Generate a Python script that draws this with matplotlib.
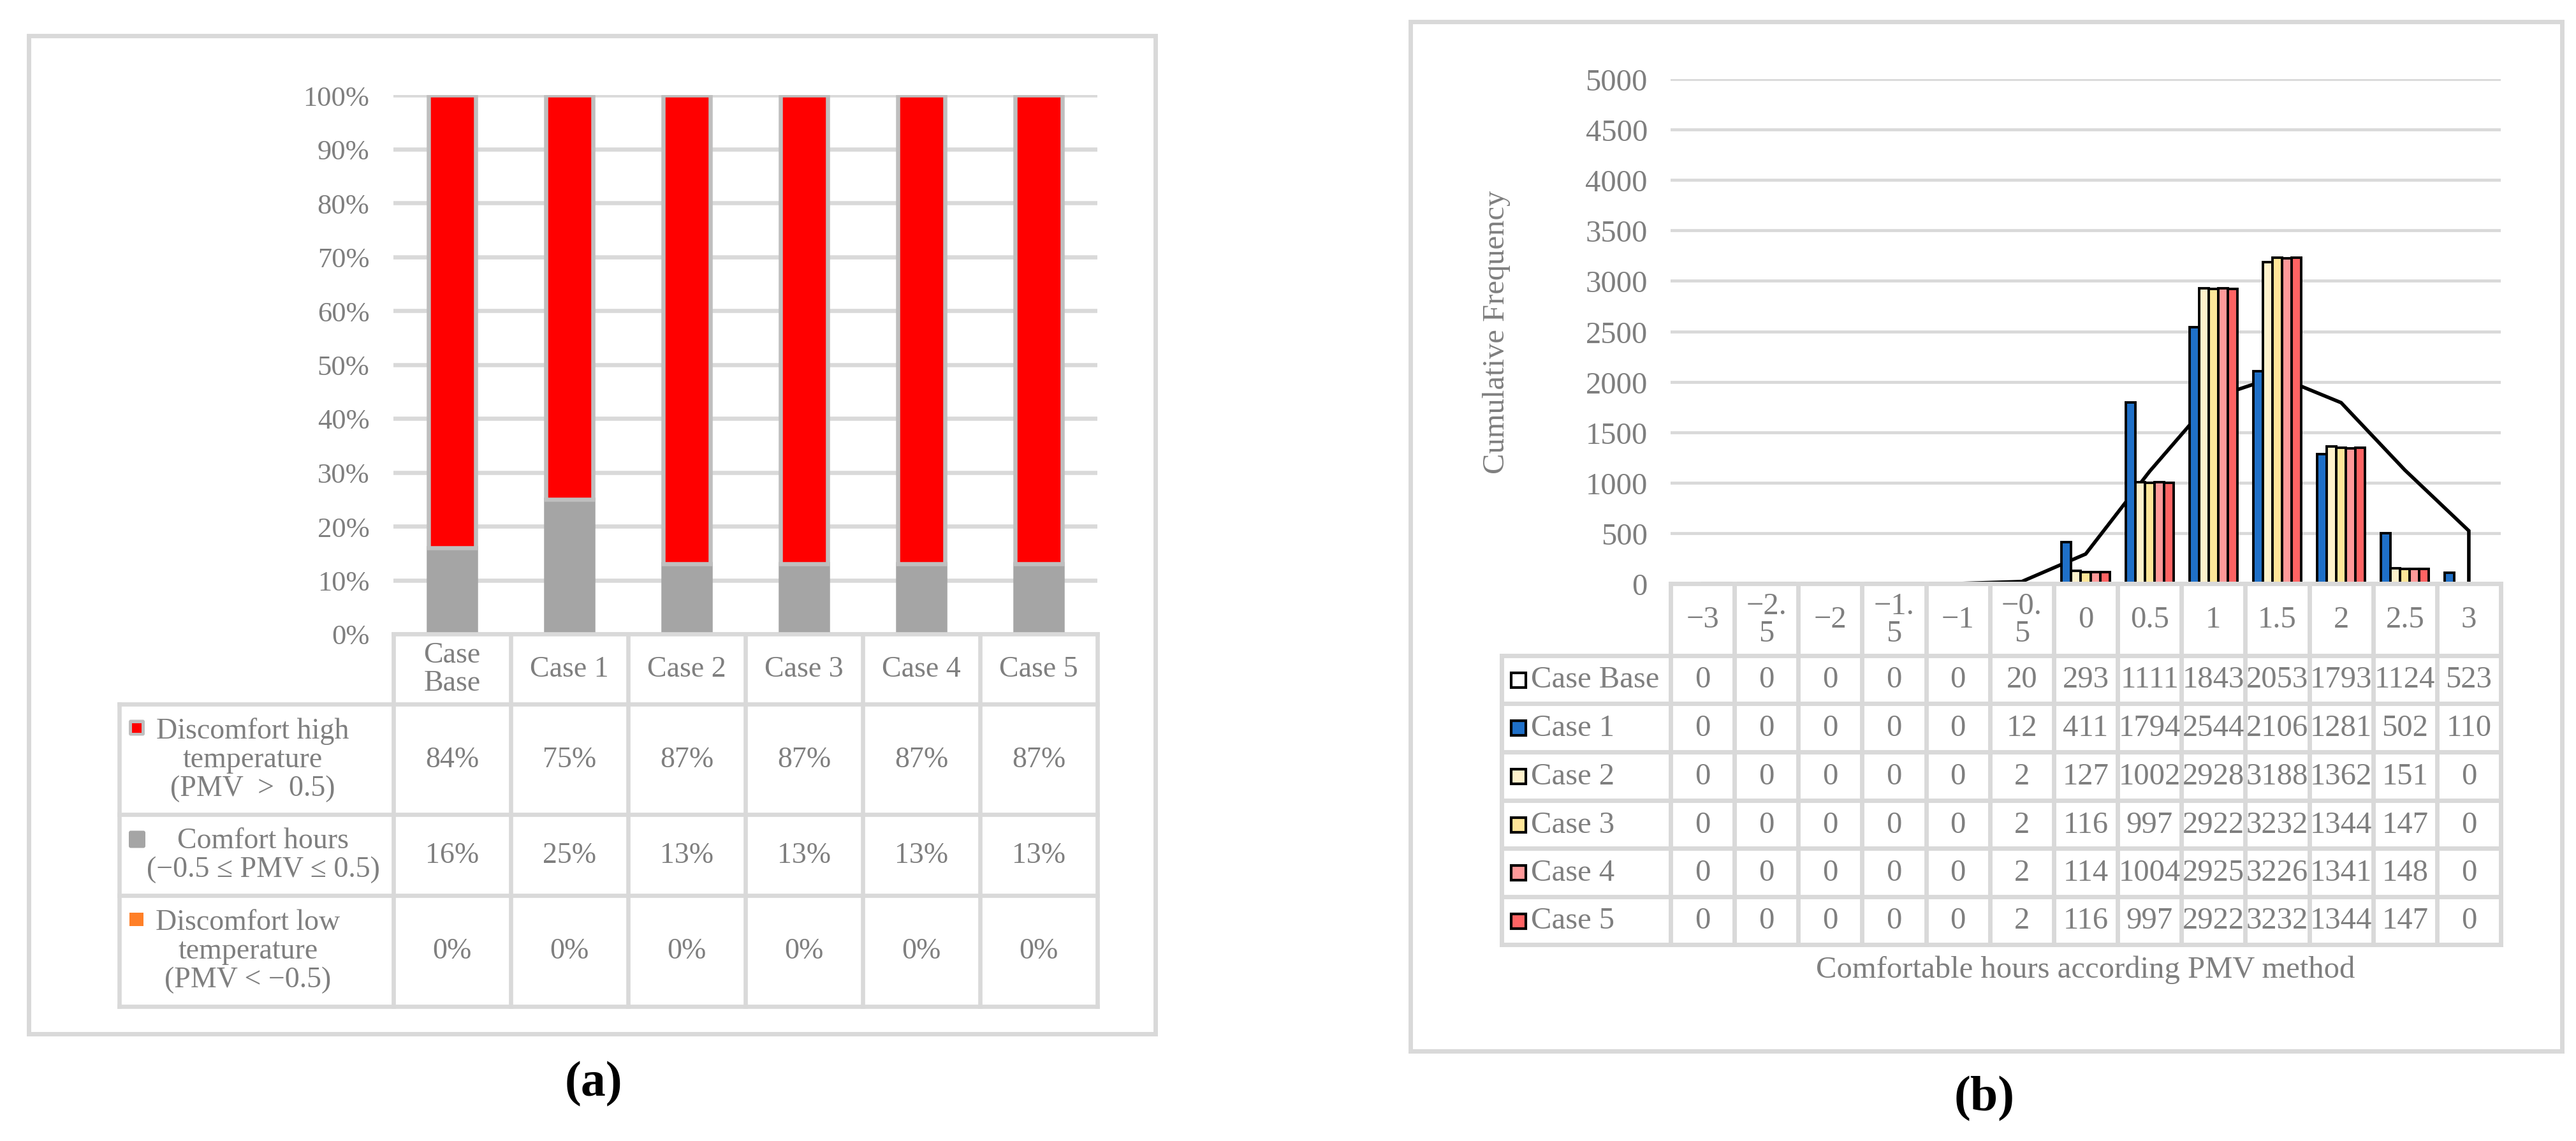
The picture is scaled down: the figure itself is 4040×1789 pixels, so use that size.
import numpy as np
import matplotlib.pyplot as plt
from matplotlib.patches import Rectangle, FancyBboxPatch

plt.rcParams['font.family'] = ['Liberation Serif', 'DejaVu Serif']

# --- Datos | Data ---
# (a) porcentaje de horas por caso
casos = ['Case Base', 'Case 1', 'Case 2', 'Case 3', 'Case 4', 'Case 5']
casos_cabecera = ['Case\nBase', 'Case 1', 'Case 2', 'Case 3', 'Case 4', 'Case 5']
pct_alta = [84, 75, 87, 87, 87, 87]      # PMV > 0.5
pct_confort = [16, 25, 13, 13, 13, 13]   # -0.5 <= PMV <= 0.5
pct_baja = [0, 0, 0, 0, 0, 0]            # PMV < -0.5
etiquetas_a = ['Discomfort high\ntemperature\n(PMV  >  0.5)',
               'Comfort hours\n(\u22120.5 \u2264 PMV \u2264 0.5)',
               'Discomfort low\ntemperature\n(PMV < \u22120.5)']

# (b) frecuencia acumulada por valor PMV
pmv_etiquetas = ['\u22123', '\u22122.\n5', '\u22122', '\u22121.\n5', '\u22121', '\u22120.\n5',
                 '0', '0.5', '1', '1.5', '2', '2.5', '3']
case_base = [0, 0, 0, 0, 0, 20, 293, 1111, 1843, 2053, 1793, 1124, 523]
case_1 = [0, 0, 0, 0, 0, 12, 411, 1794, 2544, 2106, 1281, 502, 110]
case_2 = [0, 0, 0, 0, 0, 2, 127, 1002, 2928, 3188, 1362, 151, 0]
case_3 = [0, 0, 0, 0, 0, 2, 116, 997, 2922, 3232, 1344, 147, 0]
case_4 = [0, 0, 0, 0, 0, 2, 114, 1004, 2925, 3226, 1341, 148, 0]
case_5 = [0, 0, 0, 0, 0, 2, 116, 997, 2922, 3232, 1344, 147, 0]
nombres_b = ['Case Base', 'Case 1', 'Case 2', 'Case 3', 'Case 4', 'Case 5']

# --- Estilo | Style ---
ANCHO, ALTO = 4041, 1790
GRIS_TXT = '#7f7f7f'
GRIS_LIN = '#d9d9d9'
colores_b = ['#1f70c8', '#fff2cc', '#ffe699', '#ff9999', '#ff6363']
FS_A = 33
FS_B = 35

fig = plt.figure(figsize=(ANCHO / 100, ALTO / 100), dpi=100)


def caja(x0, y0, x1, y1):
    # caja en píxeles (origen arriba a la izquierda) -> fracción de figura
    return [x0 / ANCHO, 1 - y1 / ALTO, (x1 - x0) / ANCHO, (y1 - y0) / ALTO]


# capa en píxeles para marcos y tablas | pixel layer for frames and tables
capa = fig.add_axes([0, 0, 1, 1], zorder=5)
capa.set_xlim(0, ANCHO)
capa.set_ylim(ALTO, 0)
capa.axis('off')


def en_px(ax, x, y=0.0):
    p = ax.transData.transform((x, y))
    return capa.transData.inverted().transform(p)


def linea_h(y, x0, x1, lw=4.8):
    capa.plot([x0, x1], [y, y], color=GRIS_LIN, lw=lw, solid_capstyle='projecting')


def linea_v(x, y0, y1, lw=4.8):
    capa.plot([x, x], [y0, y1], color=GRIS_LIN, lw=lw, solid_capstyle='projecting')


# marcos | frames
capa.add_patch(Rectangle((45, 57), 1812 - 45, 1622 - 57, fill=False, ec=GRIS_LIN, lw=5))
capa.add_patch(Rectangle((2212, 35), 4018 - 2212, 1649 - 35, fill=False, ec=GRIS_LIN, lw=5))

# ================= (a) =================
ax_a = fig.add_axes(caja(617, 150, 1721, 995))
ax_a.set_facecolor('none')
x_a = np.arange(len(casos))
baja = np.array(pct_baja) / 100
confort = np.array(pct_confort) / 100
alta = np.array(pct_alta) / 100
ax_a.bar(x_a, baja, width=0.40, color='#ff7f27', lw=0, zorder=3)
ax_a.bar(x_a, confort, bottom=baja, width=0.40, color='#a5a5a5',
         edgecolor='#a5a5a5', lw=4.7, zorder=3)
ax_a.bar(x_a, alta, bottom=baja + confort, width=0.40, color='#ff0000',
         edgecolor='#bfbfbf', lw=4.7, zorder=3)
ax_a.set_xlim(-0.5, len(casos) - 0.5)
ax_a.set_ylim(0, 1)
ticks_a = np.linspace(0, 1, 11)
ax_a.set_yticks(ticks_a)
ax_a.set_yticklabels([f'{int(round(t * 100))}%' for t in ticks_a])
ax_a.tick_params(axis='y', length=0, pad=27, labelsize=32, labelcolor=GRIS_TXT)
ax_a.set_xticks([])
ax_a.yaxis.grid(True, color=GRIS_LIN, lw=4.7)
ax_a.set_axisbelow(True)
for s in ax_a.spines.values():
    s.set_visible(False)

# tabla (a)
cols_a = [en_px(ax_a, i - 0.5)[0] for i in range(len(casos) + 1)]
filas_a = [en_px(ax_a, 0, 0)[1], 1105, 1278, 1405, 1579]
x_izq_a = 187
linea_h(filas_a[0], cols_a[0], cols_a[-1])
for y in filas_a[1:]:
    linea_h(y, x_izq_a, cols_a[-1])
linea_v(x_izq_a, filas_a[1], filas_a[-1])
for x in cols_a:
    linea_v(x, filas_a[0], filas_a[-1])

yc = (filas_a[0] + filas_a[1]) / 2
for i, t in enumerate(casos_cabecera):
    capa.text(en_px(ax_a, i)[0], yc, t, ha='center', va='center', fontsize=FS_A,
              color=GRIS_TXT, linespacing=1.05)

series_a = [pct_alta, pct_confort, pct_baja]
centros_lbl = [396, 413, 389]
for r, (vals, lbl) in enumerate(zip(series_a, etiquetas_a)):
    yc = (filas_a[r + 1] + filas_a[r + 2]) / 2
    n = lbl.count('\n') + 1
    capa.text(centros_lbl[r], yc, lbl, ha='center', va='center', fontsize=FS_A,
              color=GRIS_TXT, linespacing=1.08, multialignment='center')
    y1 = yc - (n - 1) / 2 * 50
    if r == 0:
        capa.add_patch(FancyBboxPatch((202, y1 - 12), 25, 25, boxstyle='round,pad=0,rounding_size=3',
                                      fc='#bfbfbf', ec='none'))
        capa.add_patch(Rectangle((207, y1 - 7), 15, 15, fc='#ff0000', ec='none'))
    elif r == 1:
        capa.add_patch(FancyBboxPatch((202, y1 - 13), 26, 27, boxstyle='round,pad=0,rounding_size=3',
                                      fc='#a5a5a5', ec='none'))
    else:
        capa.add_patch(Rectangle((203, y1 - 10), 22, 21, fc='#ff7f27', ec='none'))
    for i, v in enumerate(vals):
        capa.text(en_px(ax_a, i)[0], yc, f'{v}%', ha='center', va='center',
                  fontsize=FS_A, color=GRIS_TXT)

capa.text(931, 1700, '(a)', ha='center', va='center', fontsize=56, fontweight='bold', color='black')

# ================= (b) =================
ax_b = fig.add_axes(caja(2620, 125, 3922, 916))
ax_b.set_facecolor('none')
x_b = np.arange(len(pmv_etiquetas))
series_b = [case_1, case_2, case_3, case_4, case_5]
ancho = 0.15
for k, (vals, c) in enumerate(zip(series_b, colores_b)):
    ax_b.bar(x_b + (k - 2) * ancho, vals, width=ancho, color=c, edgecolor='black',
             lw=2.8, zorder=3)
# Case Base como línea (cae a cero en el último punto)
ax_b.plot(np.append(x_b, x_b[-1]), np.append(case_base, 0), color='black', lw=4,
          zorder=2, solid_joinstyle='miter')
ax_b.set_xlim(-0.5, len(pmv_etiquetas) - 0.5)
ax_b.set_ylim(0, 5000)
ticks_b = np.arange(0, 5001, 500)
ax_b.set_yticks(ticks_b)
ax_b.set_yticklabels([str(t) for t in ticks_b])
ax_b.tick_params(axis='y', length=0, pad=26, labelsize=FS_B, labelcolor=GRIS_TXT)
ax_b.set_xticks([])
ax_b.yaxis.grid(True, color=GRIS_LIN, lw=3.4)
ax_b.set_axisbelow(True)
for s in ax_b.spines.values():
    s.set_visible(False)

# tabla (b)
cols_b = [en_px(ax_b, i - 0.5)[0] for i in range(len(pmv_etiquetas) + 1)]
filas_b = [en_px(ax_b, 0, 0)[1], 1029, 1104, 1180, 1256, 1331, 1407, 1482]
x_izq_b = 2355
linea_h(filas_b[0], cols_b[0], cols_b[-1], lw=5)
for y in filas_b[1:]:
    linea_h(y, x_izq_b, cols_b[-1], lw=5)
linea_v(x_izq_b, filas_b[1], filas_b[-1], lw=5)
for x in cols_b:
    linea_v(x, filas_b[0], filas_b[-1], lw=5)

yc = (filas_b[0] + filas_b[1]) / 2
for i, t in enumerate(pmv_etiquetas):
    capa.text(en_px(ax_b, i)[0], yc, t, ha='center', va='center', fontsize=FS_B,
              color=GRIS_TXT, linespacing=0.95)

todas_b = [case_base] + series_b
colores_clave = ['white'] + colores_b
for r, (vals, nombre, c) in enumerate(zip(todas_b, nombres_b, colores_clave)):
    yc = (filas_b[r + 1] + filas_b[r + 2]) / 2
    capa.add_patch(Rectangle((2370, yc - 11), 23, 23, fc=c, ec='black', lw=3))
    capa.text(2401, yc, nombre, ha='left', va='center', fontsize=FS_B, color=GRIS_TXT)
    for i, v in enumerate(vals):
        capa.text(en_px(ax_b, i)[0], yc, str(v), ha='center', va='center',
                  fontsize=FS_B, color=GRIS_TXT)

capa.text(en_px(ax_b, (len(pmv_etiquetas) - 1) / 2)[0], 1521,
          'Comfortable hours according PMV method', ha='center', va='center',
          fontsize=FS_B, color=GRIS_TXT)
capa.text(2347, 521, 'Cumulative Frequency', rotation=90, ha='center', va='center',
          fontsize=FS_B, color=GRIS_TXT)
capa.text(3112, 1723, '(b)', ha='center', va='center', fontsize=56, fontweight='bold', color='black')

fig.savefig('out.png', dpi=100)
